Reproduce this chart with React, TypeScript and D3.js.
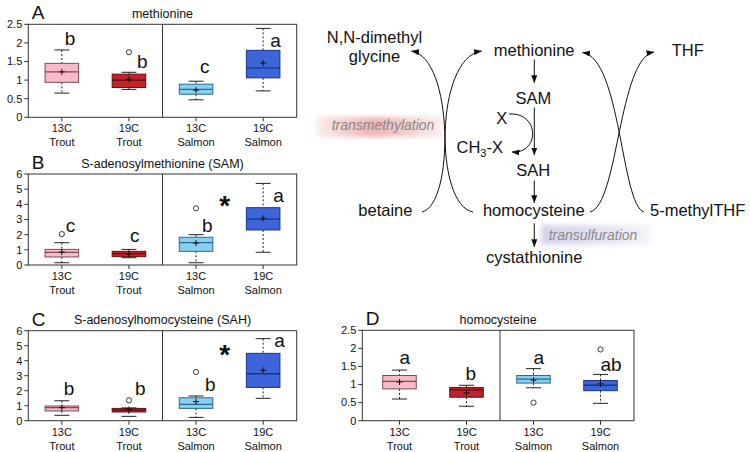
import React from "react";
import * as d3 from "d3";

// ---------- DATA ----------
const groupTemp = ["13C", "19C", "13C", "19C"];
const groupSpecies = ["Trout", "Trout", "Salmon", "Salmon"];
const groupKeys = ["13C Trout", "19C Trout", "13C Salmon", "19C Salmon"];

// stats: [whiskerLow, q1, median, q3, whiskerHigh, mean]
const methionineStats = [
  [0.65, 0.94, 1.22, 1.45, 1.81, 1.22],
  [0.75, 0.8, 1.0, 1.16, 1.21, 1.02],
  [0.47, 0.62, 0.75, 0.89, 0.97, 0.73],
  [0.71, 1.06, 1.33, 1.8, 2.39, 1.46],
];
const methionineOutliers = [[], [1.75], [], []];
const methionineLetters = ["b", "b", "c", "a"];
const methionineLetterY = [1.94, 1.33, 1.18, 1.88];

const samStats = [
  [0.15, 0.53, 0.83, 1.03, 1.47, 0.85],
  [0.48, 0.55, 0.75, 0.9, 1.03, 0.72],
  [0.15, 0.9, 1.47, 1.83, 2.0, 1.45],
  [0.84, 2.31, 3.03, 3.78, 5.38, 3.08],
];
const samOutliers = [[2.04], [], [3.74], []];
const samLetters = ["c", "c", "b", "a"];
const samLetterY = [2.2, 1.5, 2.2, 4.13];
const samStarY = 4.33;

const sahStats = [
  [0.36, 0.65, 0.87, 0.98, 1.33, 0.87],
  [0.29, 0.58, 0.71, 0.82, 0.85, 0.75],
  [0.22, 0.82, 1.09, 1.53, 1.65, 1.27],
  [1.49, 2.22, 3.13, 4.49, 5.47, 3.36],
];
const sahOutliers = [[], [1.36], [3.25], []];
const sahLetters = ["b", "b", "b", "a"];
const sahLetterY = [1.71, 1.71, 2.0, 4.93];
const sahStarY = 4.83;

const hcyStats = [
  [0.6, 0.88, 1.09, 1.25, 1.4, 1.07],
  [0.4, 0.65, 0.85, 0.92, 0.98, 0.77],
  [0.91, 1.04, 1.15, 1.25, 1.44, 1.12],
  [0.48, 0.83, 0.98, 1.11, 1.28, 1.02],
];
const hcyOutliers = [[], [], [0.5], [1.97]];
const hcyLetters = ["a", "b", "a", "ab"];
const hcyLetterY = [1.56, 1.12, 1.56, 1.38];

const ticksSmall = [0, 0.5, 1, 1.5, 2, 2.5];
const ticksLarge = [0, 1, 2, 3, 4, 5, 6];

// ---------- STYLE ----------
const FONT = "'Liberation Sans', Arial, Helvetica, sans-serif";
const fills = ["#F8BAC6", "#C1232B", "#88CFF1", "#3D64D8"];
const strokes = ["#7a4c58", "#5e1014", "#2d6a90", "#1b347e"];

type PanelProps = {
  left: number; right: number; top: number; bottom: number; bandLeft: number;
  yMax: number; ticks: number[]; title: string; tag: string;
  stats: number[][]; outliers: number[][]; letters: string[]; letterY: number[];
  letterDx: number[]; starY?: number | null;
};

function Panel(p: PanelProps) {
  const x = d3.scaleBand<string>().domain(groupKeys).range([p.bandLeft, p.right]).padding(0);
  const y = d3.scaleLinear().domain([0, p.yMax]).range([p.bottom, p.top]);
  const bw = x.bandwidth() * 0.5;
  const cap = 15;
  const mid = (p.left + p.right) / 2;
  const divX = (x(groupKeys[1])! + x.bandwidth() + x(groupKeys[2])!) / 2;
  return (
    <g fontFamily={FONT}>
      <text x={p.left + 3.5} y={p.top - 5} fontSize={19} fill="#111">{p.tag}</text>
      <text x={mid} y={p.top - 6.5} fontSize={12.5} textAnchor="middle" fill="#111">{p.title}</text>
      <rect x={p.left} y={p.top} width={p.right - p.left} height={p.bottom - p.top} fill="none" stroke="#333" strokeWidth={1} />
      <line x1={divX} x2={divX} y1={p.top} y2={p.bottom} stroke="#333" strokeWidth={1} />
      {p.ticks.map((t) => (
        <g key={t}>
          <line x1={p.left - 4} x2={p.left} y1={y(t)} y2={y(t)} stroke="#333" />
          <text x={p.left - 6} y={y(t)} dy="0.35em" textAnchor="end" fontSize={11} fill="#111">{String(t)}</text>
        </g>
      ))}
      {groupKeys.map((k, i) => {
        const cx = x(k)! + x.bandwidth() / 2;
        const [lo, q1, md, q3, hi, mean] = p.stats[i];
        return (
          <g key={k}>
            <line x1={cx} x2={cx} y1={p.bottom} y2={p.bottom + 4} stroke="#333" />
            <text x={cx} y={p.bottom + 15} textAnchor="middle" fontSize={11} fill="#111">{groupTemp[i]}</text>
            <text x={cx} y={p.bottom + 29} textAnchor="middle" fontSize={11} fill="#111">{groupSpecies[i]}</text>
            <line x1={cx} x2={cx} y1={y(hi)} y2={y(q3)} stroke="#222" strokeDasharray="2,2" />
            <line x1={cx} x2={cx} y1={y(q1)} y2={y(lo)} stroke="#222" strokeDasharray="2,2" />
            <line x1={cx - cap / 2} x2={cx + cap / 2} y1={y(hi)} y2={y(hi)} stroke="#222" />
            <line x1={cx - cap / 2} x2={cx + cap / 2} y1={y(lo)} y2={y(lo)} stroke="#222" />
            <rect x={cx - bw / 2} y={y(q3)} width={bw} height={Math.max(1, y(q1) - y(q3))} fill={fills[i]} stroke={strokes[i]} strokeWidth={1} />
            <line x1={cx - bw / 2} x2={cx + bw / 2} y1={y(md)} y2={y(md)} stroke={strokes[i]} strokeWidth={1.3} />
            <line x1={cx - 3} x2={cx + 3} y1={y(mean)} y2={y(mean)} stroke="#111" />
            <line x1={cx} x2={cx} y1={y(mean) - 3} y2={y(mean) + 3} stroke="#111" />
            {p.outliers[i].map((o, j) => (
              <circle key={j} cx={cx} cy={y(o)} r={2.6} fill="white" stroke="#222" strokeWidth={0.9} />
            ))}
            <text x={cx + p.letterDx[i]} y={y(p.letterY[i])} fontSize={19} fill="#111">{p.letters[i]}</text>
          </g>
        );
      })}
      {p.starY != null && (
        <text
          x={(x(groupKeys[2])! + x(groupKeys[3])! + x.bandwidth()) / 2 - 5}
          y={y(p.starY) + 16}
          textAnchor="middle" fontSize={28} fontWeight="bold" fill="#111"
        >*</text>
      )}
    </g>
  );
}

function Pathway() {
  const fs = 16.5;
  const arrow = "url(#ah)";
  return (
    <g fontFamily={FONT} fill="#111">
      <defs>
        <marker id="ah" viewBox="0 0 8 6" refX={7.5} refY={3} markerWidth={8} markerHeight={6} markerUnits="userSpaceOnUse" orient="auto">
          <path d="M0,0 L8,3 L0,6 Z" fill="#111" />
        </marker>
        <linearGradient id="gRed" x1="0" x2="1" y1="0" y2="0">
          <stop offset="0" stopColor="#fbeaea" />
          <stop offset="0.45" stopColor="#eeb3b3" />
          <stop offset="0.7" stopColor="#f3cccc" />
          <stop offset="1" stopColor="#fbeeee" />
        </linearGradient>
        <linearGradient id="gBlue" x1="0" x2="1" y1="0" y2="0">
          <stop offset="0" stopColor="#d6d2e8" />
          <stop offset="0.6" stopColor="#e6e3f0" />
          <stop offset="1" stopColor="#f6f5fa" />
        </linearGradient>
        <filter id="blur" x="-10%" y="-40%" width="120%" height="180%">
          <feGaussianBlur stdDeviation="2.5" />
        </filter>
      </defs>
      <rect x={317} y={117} width={126} height={20} fill="url(#gRed)" filter="url(#blur)" />
      <rect x={541} y={225} width={110} height={20} fill="url(#gBlue)" filter="url(#blur)" />
      <text x={383} y={130} fontSize={14} fontStyle="italic" fill="#8a8a8a" textAnchor="middle">transmethylation</text>
      <text x={593} y={239.5} fontSize={14} fontStyle="italic" fill="#8a8a8a" textAnchor="middle">transulfuration</text>

      <text x={374.5} y={43} fontSize={fs} textAnchor="middle">N,N-dimethyl</text>
      <text x={374.5} y={62} fontSize={fs} textAnchor="middle">glycine</text>
      <text x={534.2} y={55.5} fontSize={fs} textAnchor="middle">methionine</text>
      <text x={671.7} y={55.5} fontSize={fs}>THF</text>
      <text x={533.3} y={104} fontSize={fs} textAnchor="middle">SAM</text>
      <text x={501.7} y={124} fontSize={fs} textAnchor="middle">X</text>
      <text x={456.5} y={152.5} fontSize={fs}>
        CH<tspan fontSize={11} dy={4}>3</tspan><tspan dy={-4}>-X</tspan>
      </text>
      <text x={533.3} y={175.5} fontSize={fs} textAnchor="middle">SAH</text>
      <text x={533.8} y={216} fontSize={fs} textAnchor="middle">homocysteine</text>
      <text x={534.2} y={262.5} fontSize={fs} textAnchor="middle">cystathionine</text>
      <text x={358.3} y={216} fontSize={fs}>betaine</text>
      <text x={650} y={216} fontSize={fs}>5-methylTHF</text>

      <g stroke="#111" strokeWidth={1} fill="none">
        <line x1={534.3} x2={534.3} y1={59.5} y2={82.7} markerEnd={arrow} />
        <line x1={534.3} x2={534.3} y1={107.5} y2={155} markerEnd={arrow} />
        <line x1={534.3} x2={534.3} y1={180.7} y2={202.7} markerEnd={arrow} />
        <line x1={534.3} x2={534.3} y1={223.3} y2={246.7} markerEnd={arrow} />
        <path d="M509,114 C540,112 540,154 512,152" markerEnd={arrow} />
        <path d="M422,212 C454,205 454,58 411.5,51" markerEnd={arrow} />
        <path d="M473,212 C434.5,205 434.5,58 481.5,51" markerEnd={arrow} />
        <path d="M590,212 C618.5,205 618.5,58 654,52" markerEnd={arrow} />
        <path d="M644,212 C621,205 621,58 582.5,52.5" markerEnd={arrow} />
      </g>
    </g>
  );
}

export default function App() {
  return (
    <svg width={750} height={452} viewBox="0 0 750 452" style={{ position: "absolute", left: 0, top: 0, background: "white" }}>
      <rect x={0} y={0} width={750} height={452} fill="white" />
      <Panel left={28.3} right={296.7} top={24.3} bottom={117.3} bandLeft={28.3} yMax={2.5} ticks={ticksSmall}
        title="methionine" tag="A" stats={methionineStats} outliers={methionineOutliers}
        letters={methionineLetters} letterY={methionineLetterY} letterDx={[3, 8, 4, 7]} starY={null} />
      <Panel left={28.3} right={296.7} top={174} bottom={265} bandLeft={28.3} yMax={6} ticks={ticksLarge}
        title="S-adenosylmethionine (SAM)" tag="B" stats={samStats} outliers={samOutliers}
        letters={samLetters} letterY={samLetterY} letterDx={[4, 1, 6, 10]} starY={samStarY} />
      <Panel left={28.3} right={296.7} top={330.7} bottom={420.7} bandLeft={28.3} yMax={6} ticks={ticksLarge}
        title="S-adenosylhomocysteine (SAH)" tag="C" stats={sahStats} outliers={sahOutliers}
        letters={sahLetters} letterY={sahLetterY} letterDx={[2, 6, 9, 11]} starY={sahStarY} />
      <Panel left={362.3} right={634} top={330.3} bottom={420.7} bandLeft={366} yMax={2.5} ticks={ticksSmall}
        title="homocysteine" tag="D" stats={hcyStats} outliers={hcyOutliers}
        letters={hcyLetters} letterY={hcyLetterY} letterDx={[0, -1, 0, 0]} starY={null} />
      <Pathway />
    </svg>
  );
}
